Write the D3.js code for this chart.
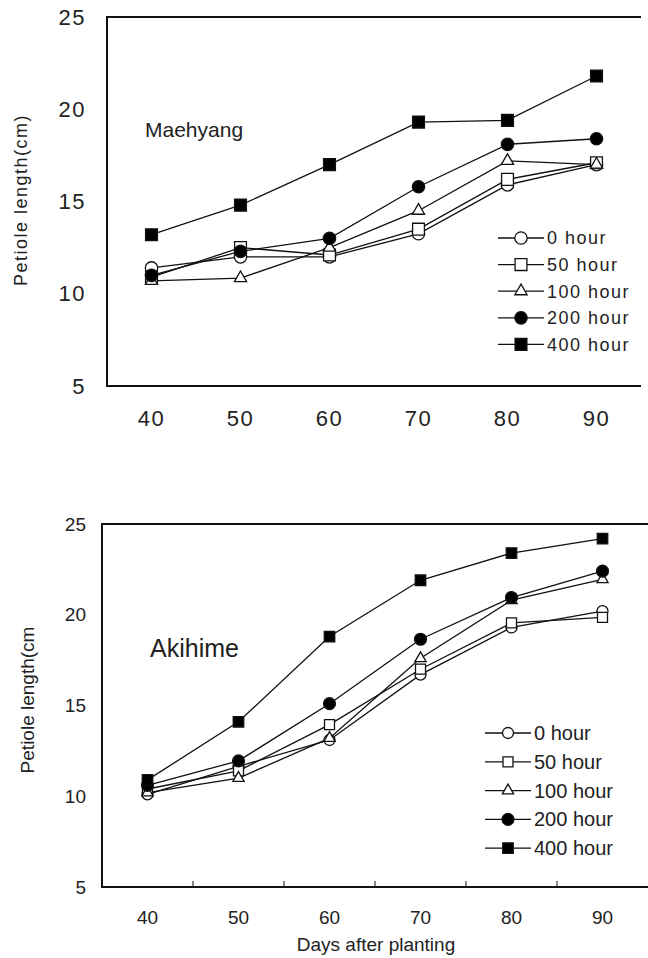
<!DOCTYPE html>
<html>
<head>
<meta charset="utf-8">
<script src="https://cdn.jsdelivr.net/npm/d3@7"></script>
<style>
  body { margin: 0; background: #fff; }
  svg { display: block; }
</style>
</head>
<body>
<div id="chart"></div>
<script>
// categories (days after planting)
var days = [40, 50, 60, 70, 80, 90];
var series_names = ['0 hour', '50 hour', '100 hour', '200 hour', '400 hour'];
var y_ticks = [5, 10, 15, 20, 25];

// Maehyang
var maehyang_0 = [11.4, 12.0, 12.0, 13.25, 15.9, 17.0];
var maehyang_50 = [10.9, 12.5, 12.1, 13.5, 16.2, 17.1];
var maehyang_100 = [10.7, 10.85, 12.5, 14.5, 17.2, 17.0];
var maehyang_200 = [11.0, 12.3, 13.0, 15.8, 18.1, 18.4];
var maehyang_400 = [13.2, 14.8, 17.0, 19.3, 19.4, 21.8];

// Akihime
var akihime_0 = [10.1, 11.65, 13.1, 16.7, 19.3, 20.2];
var akihime_50 = [10.4, 11.4, 13.95, 17.0, 19.55, 19.85];
var akihime_100 = [10.2, 11.0, 13.2, 17.6, 20.8, 21.95];
var akihime_200 = [10.6, 11.95, 15.1, 18.65, 20.95, 22.4];
var akihime_400 = [10.9, 14.1, 18.8, 21.9, 23.4, 24.2];

var width = 648, height = 958;

var svg = d3.select('#chart')
    .append('svg')
    .attr('width', width)
    .attr('height', height);

var symbols = [d3.symbolCircle, d3.symbolSquare, d3.symbolTriangle, d3.symbolCircle, d3.symbolSquare];
var fills = ['#fff', '#fff', '#fff', '#000', '#000'];

function drawPanel(opt) {
    var g = svg.append('g');

    var x_scale = d3.scaleBand()
        .domain(days)
        .range([opt.left, opt.right])
        .paddingInner(0);
    var y_scale = d3.scaleLinear()
        .domain([5, 25])
        .range([opt.bottom, opt.top]);
    var cx = function(d) { return x_scale(d) + x_scale.bandwidth() / 2; };

    // frame: left, top, bottom (right side runs off the page)
    g.append('path')
        .attr('d', 'M' + opt.right + ',' + y_scale(25) + 'H' + opt.left + 'V' + y_scale(5) + 'H' + opt.right)
        .attr('fill', 'none')
        .attr('stroke', '#111')
        .attr('stroke-width', 2);

    // y axis labels
    var y_axis = d3.axisLeft(y_scale)
        .tickValues(y_ticks)
        .tickSize(0)
        .tickPadding(opt.left - opt.ylabX);
    var ya = g.append('g')
        .attr('transform', 'translate(' + opt.left + ',0)')
        .call(y_axis);
    ya.select('.domain').remove();
    ya.selectAll('text')
        .attr('font-family', opt.font)
        .attr('font-size', opt.tickSize)
        .attr('letter-spacing', opt.spacing)
        .attr('fill', '#222');

    // x axis labels
    var x_axis = d3.axisBottom(x_scale)
        .tickSize(0)
        .tickPadding(opt.xlabPad);
    var xa = g.append('g')
        .attr('transform', 'translate(0,' + opt.bottom + ')')
        .call(x_axis);
    xa.select('.domain').remove();
    xa.selectAll('text')
        .attr('font-family', opt.font)
        .attr('font-size', opt.tickSize)
        .attr('letter-spacing', opt.spacing)
        .attr('fill', '#222');

    // inner tick marks between categories
    if (opt.innerTicks) {
        g.selectAll('.itick')
            .data(days.slice(1))
            .enter()
            .append('line')
            .attr('x1', function(d) { return x_scale(d); })
            .attr('x2', function(d) { return x_scale(d); })
            .attr('y1', opt.bottom)
            .attr('y2', opt.bottom - 6)
            .attr('stroke', '#111')
            .attr('stroke-width', 1);
    }

    // axis title
    g.append('text')
        .attr('transform', 'translate(' + opt.ytitleX + ',' + opt.ytitleY + ') rotate(-90)')
        .attr('text-anchor', 'middle')
        .attr('font-family', opt.font)
        .attr('font-size', opt.titleSize)
        .attr('letter-spacing', opt.spacing)
        .attr('fill', '#222')
        .text(opt.ytitle);

    if (opt.xtitle) {
        g.append('text')
            .attr('x', opt.xtitleX)
            .attr('y', opt.xtitleY)
            .attr('text-anchor', 'middle')
            .attr('font-family', opt.font)
            .attr('font-size', opt.titleSize)
            .attr('fill', '#222')
            .text(opt.xtitle);
    }

    // cultivar label
    g.append('text')
        .attr('x', opt.nameX)
        .attr('y', opt.nameY)
        .attr('font-family', opt.font)
        .attr('font-size', opt.nameSize)
        .attr('fill', '#222')
        .text(opt.name);

    var line = d3.line()
        .x(function(d, i) { return cx(days[i]); })
        .y(function(d) { return y_scale(d); });

    opt.series.forEach(function(vals, s) {
        g.append('path')
            .datum(vals)
            .attr('d', line)
            .attr('fill', 'none')
            .attr('stroke', '#111')
            .attr('stroke-width', 1.3);
    });

    opt.series.forEach(function(vals, s) {
        g.selectAll('.m' + s)
            .data(vals)
            .enter()
            .append('path')
            .attr('transform', function(d, i) { return 'translate(' + cx(days[i]) + ',' + y_scale(d) + ')'; })
            .attr('d', d3.symbol().type(symbols[s]).size(opt.msize[s]))
            .attr('fill', fills[s])
            .attr('stroke', '#111')
            .attr('stroke-width', 1.3);
    });

    // legend
    var lg = g.selectAll('.leg')
        .data(series_names)
        .enter()
        .append('g')
        .attr('transform', function(d, i) { return 'translate(' + opt.legX + ',' + (opt.legY + i * opt.legStep) + ')'; });
    lg.append('line')
        .attr('x1', 0)
        .attr('x2', opt.legLine)
        .attr('stroke', '#111')
        .attr('stroke-width', 1.3);
    lg.append('path')
        .attr('transform', 'translate(' + (opt.legLine / 2) + ',0)')
        .attr('d', function(d, i) { return d3.symbol().type(symbols[i]).size(opt.msize[i])(); })
        .attr('fill', function(d, i) { return fills[i]; })
        .attr('stroke', '#111')
        .attr('stroke-width', 1.3);
    lg.append('text')
        .attr('x', opt.legLine + 3)
        .attr('dy', '0.35em')
        .attr('font-family', opt.font)
        .attr('font-size', opt.legSize)
        .attr('letter-spacing', opt.spacing)
        .attr('fill', '#222')
        .text(function(d) { return d; });
}

drawPanel({
    left: 107, right: 641, top: 17, bottom: 386,
    font: '"Liberation Sans", Arial, sans-serif',
    spacing: 1.5, tickSize: 22, titleSize: 18, nameSize: 21, legSize: 18,
    ylabX: 86, xlabPad: 24, innerTicks: false,
    ytitle: 'Petiole length(cm)', ytitleX: 27, ytitleY: 200,
    name: 'Maehyang', nameX: 145, nameY: 137,
    legX: 498, legY: 238, legStep: 26.6, legLine: 46,
    msize: [120, 140, 65, 120, 140],
    series: [maehyang_0, maehyang_50, maehyang_100, maehyang_200, maehyang_400]
});

drawPanel({
    left: 102, right: 648, top: 524, bottom: 887,
    font: '"Liberation Sans Narrow", "Liberation Sans", Arial, sans-serif',
    spacing: 0, tickSize: 19, titleSize: 19, nameSize: 25, legSize: 20,
    ylabX: 86, xlabPad: 24, innerTicks: true,
    ytitle: 'Petiole length(cm', ytitleX: 34, ytitleY: 700,
    xtitle: 'Days after planting', xtitleX: 376, xtitleY: 951,
    name: 'Akihime', nameX: 150, nameY: 657,
    legX: 485, legY: 733, legStep: 28.8, legLine: 46,
    msize: [95, 100, 55, 110, 110],
    series: [akihime_0, akihime_50, akihime_100, akihime_200, akihime_400]
});
</script>
</body>
</html>
